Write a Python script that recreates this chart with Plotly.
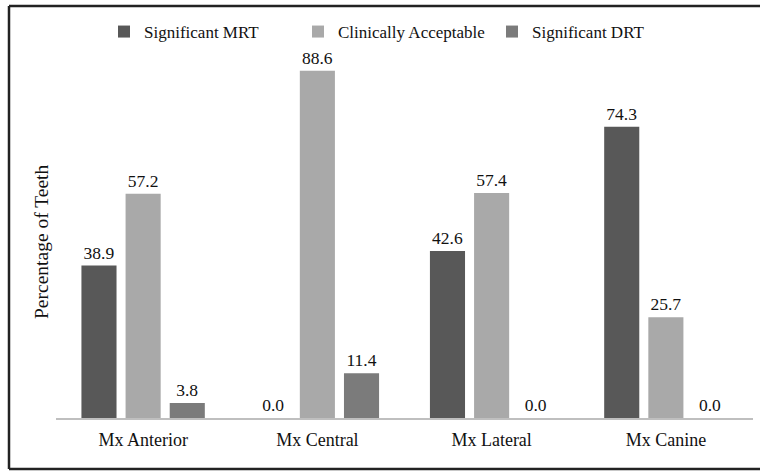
import plotly.graph_objects as go

categories = ["Mx Anterior", "Mx Central", "Mx Lateral", "Mx Canine"]
series_names = ["Significant MRT", "Clinically Acceptable", "Significant DRT"]
mrt = [38.9, 0.0, 42.6, 74.3]
acceptable = [57.2, 88.6, 57.4, 25.7]
drt = [3.8, 11.4, 0.0, 0.0]
colors = ["#585858", "#a9a9a9", "#7b7b7b"]

FONT = "Liberation Serif, Times New Roman, serif"

fig = go.Figure()
for name, vals, col in zip(series_names, [mrt, acceptable, drt], colors):
    fig.add_trace(go.Bar(
        x=categories, y=vals, name=name,
        marker=dict(color=col, line=dict(width=0)),
        texttemplate="%{y:.1f}", textposition="outside",
        textfont=dict(family=FONT, size=17.5, color="#111"),
        cliponaxis=False,
    ))

fig.update_layout(
    width=760, height=472,
    margin=dict(l=56, r=7, t=26, b=54, autoexpand=False),
    paper_bgcolor="white", plot_bgcolor="white",
    barmode="group", bargap=0.24, bargroupgap=0.205,
    font=dict(family=FONT, size=17, color="#111"),
    showlegend=True,
    legend=dict(orientation="h", x=(104 - 56) / 697, xanchor="left",
                y=(418 - 32) / 392, yanchor="middle",
                font=dict(family=FONT, size=17, color="#111"),
                itemwidth=30, entrywidth=149, entrywidthmode="pixels",
                bgcolor="rgba(0,0,0,0)"),
    xaxis=dict(showline=True, linecolor="#bfbfbf", linewidth=2, ticks="",
               showgrid=False, zeroline=False, ticklabelstandoff=4,
               tickfont=dict(family=FONT, size=18, color="#111")),
    yaxis=dict(range=[0, 100], showticklabels=False, showgrid=False,
               zeroline=False, showline=False),
)

fig.add_annotation(text="Percentage of Teeth", xref="paper", yref="paper",
                   x=(42 - 56) / 697, y=(418 - 242) / 392, textangle=-90,
                   showarrow=False, xanchor="center", yanchor="middle",
                   font=dict(family=FONT, size=19.5, color="#111"))

# outer frame: left, top and bottom edges (right edge lies outside the picture)
fx0, fx1 = (9 - 56) / 697, (760 - 56) / 697
fy0, fy1 = (418 - 469) / 392, (418 - 6) / 392
frame = dict(color="#222", width=2.5)
fig.add_shape(type="line", xref="paper", yref="paper", x0=fx0, x1=fx0, y0=fy0, y1=fy1, line=frame)
fig.add_shape(type="line", xref="paper", yref="paper", x0=fx0, x1=fx1, y0=fy1, y1=fy1, line=frame)
fig.add_shape(type="line", xref="paper", yref="paper", x0=fx0, x1=fx1, y0=fy0, y1=fy0, line=frame)

fig.write_html("out.html",
               config={"displayModeBar": False},
               post_script="document.body.style.margin='0';"
                           "document.body.style.overflow='hidden';")
